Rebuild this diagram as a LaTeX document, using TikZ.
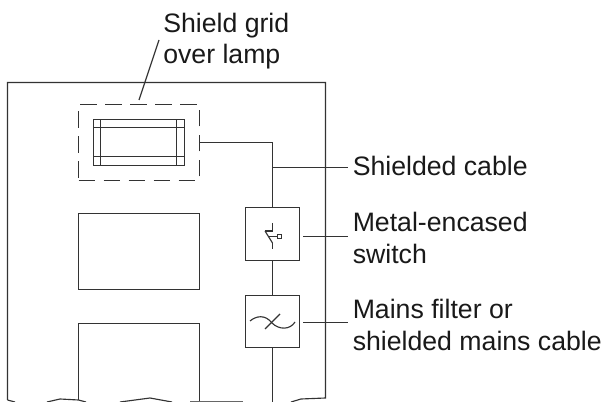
\documentclass[tikz,border=0pt]{standalone}
\usepackage{fontspec}
\setmainfont{Liberation Sans}
\tikzset{x=0.75pt,y=-0.75pt,
 ln/.style={line width=0.85pt,draw=black!80},
 lbl/.style={anchor=west,align=left,font=\fontsize{20}{23.5}\selectfont,inner sep=0pt,text=black!90},
 bxs/.style={draw=black!80,line width=0.85pt,inner sep=0pt}}
\begin{document}
\begin{tikzpicture}
\useasboundingbox (0,0) rectangle (604,402);
% housing with torn edge
\draw[ln] (7.5,400) -- (7.5,82.5) -- (325.5,82.5) -- (325.5,398) -- (301,399) -- (291,402);
\draw[ln] (7.5,400) -- (15,402);
\draw[ln] (47,402) -- (60,399) -- (78.5,400) -- (86,402);
\draw[ln] (120,402) -- (150,398) -- (172,402);
\draw[ln,line width=0.6pt,draw=black!60] (190,401.5) -- (243,401.5);
% lower compartments
\draw[ln] (78.5,400) -- (78.5,323.5) -- (199.5,323.5) -- (199.5,401);
\node[bxs,minimum width=90.75pt,minimum height=57pt] (panel) at (139,251.5) {};
% shield
\node[bxs,dash pattern=on 12.5pt off 6.25pt,minimum width=90.75pt,minimum height=57pt] (grid) at (139,142.5) {};
\node[bxs,line width=1.1pt,minimum width=68.25pt,minimum height=34.5pt] (lamp) at (139,142.5) {};
\draw[ln] (100.5,119.5) -- (100.5,165.5) (176.5,119.5) -- (176.5,165.5) (93.5,127.5) -- (184.5,127.5) (93.5,156.5) -- (184.5,156.5);
% switch and filter
\node[bxs,minimum width=40.5pt,minimum height=39.75pt] (sw) at (272.5,234) {};
\node[bxs,minimum width=40.5pt,minimum height=39pt] (flt) at (272.5,321.5) {};
\coordinate (cable) at (272.5,142.5);
\coordinate (bot) at (272.5,402);
\draw[ln] (grid.east |- cable) -- (cable) -- (sw.north -| cable);
\draw[ln] (sw.south) -- (flt.north);
\draw[ln] (flt.south) -- (bot);
% switch symbol
\draw[ln] (272.5,223) -- (272.5,231) -- (265,231);
\draw[ln] (265,231) -- (272.5,243);
\draw[ln] (272.5,243) -- (272.5,249);
\draw[ln] (269,236.5) -- (278,236.5);
\draw[ln] (277.5,234.5) rectangle (281.5,238.5);
% filter symbol
\draw[ln] (250,321) .. controls (256,316) and (265,314) .. (272,323) .. controls (279,330) and (290,330) .. (295,322);
\draw[ln] (265,329) -- (280,314);
% leaders
\coordinate (l1) at (272.5,167.5);
\coordinate (l1e) at (348,167.5);
\coordinate (l2) at (303,236.5);
\coordinate (l2e) at (348,236.5);
\coordinate (l3) at (303,322.5);
\coordinate (l3e) at (348,322.5);
\coordinate (l4) at (139,100);
\coordinate (l4e) at (159,40);
\draw[ln] (l1) -- (l1e);
\draw[ln] (l2) -- (l2e);
\draw[ln] (l3) -- (l3e);
\draw[ln] (l4) -- (l4e);
% labels
\node[lbl] (t1) at (163,41) {Shield grid\\over lamp};
\node[lbl] (t2) at (352.5,166) {Shielded cable};
\node[lbl] (t3) at (352.5,238) {Metal-encased\\switch};
\node[lbl] (t4) at (352.5,325) {Mains filter or\\shielded mains cable};
\end{tikzpicture}
\end{document}
